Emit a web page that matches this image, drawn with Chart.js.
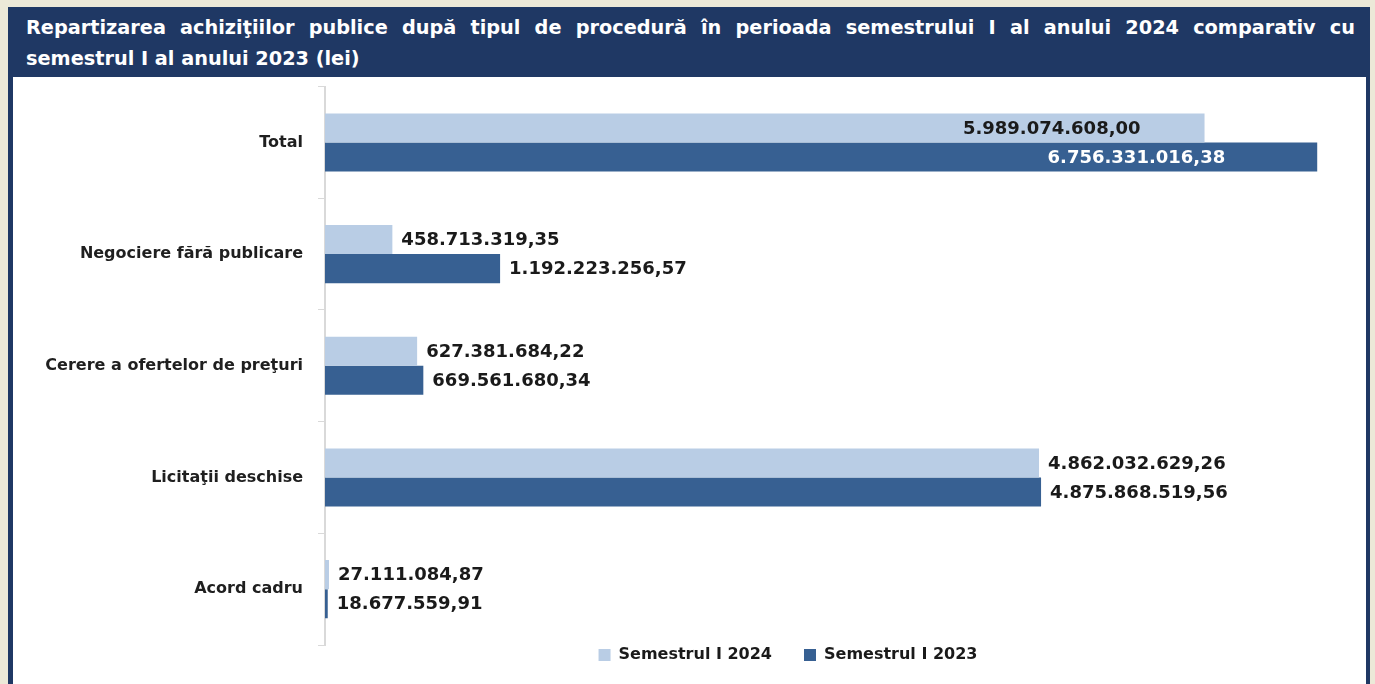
<!DOCTYPE html>
<html lang="ro">
<head>
<meta charset="UTF-8" />
<title>Repartizarea achizițiilor publice după tipul de procedură</title>
<script src="https://cdn.jsdelivr.net/npm/chart.js"></script>
<style>
    body {
        margin: 0;
        width: 1375px;
        height: 684px;
        overflow: hidden;
        background: #ece9d8;
        font-family: "DejaVu Sans", sans-serif;
    }
    .frame {
        position: absolute;
        left: 8px;
        top: 7px;
        width: 1362px;
        height: 700px;
        background: #1f3864;
    }
    .title {
        position: absolute;
        left: 18px;
        top: 5px;
        width: 1329px;
        color: #fff;
        font-weight: bold;
        font-size: 19.3px;
        line-height: 31px;
    }
    .title .l1 { text-align: justify; text-align-last: justify; }
    .chart-box {
        position: absolute;
        left: 5px;
        top: 70px;
        width: 1353px;
        height: 660px;
        background: #fff;
    }
    .plot {
        position: absolute;
        left: 0;
        top: -15px;
        width: 1353px;
        height: 675px;
    }
</style>
</head>
<body>
<div class="frame">
    <div class="title">
        <div class="l1">Repartizarea achiziţiilor publice după tipul de procedură în perioada semestrului I al anului 2024 comparativ cu</div>
        <div>semestrul I al anului 2023 (lei)</div>
    </div>
    <div class="chart-box"><div class="plot"><canvas id="chart"></canvas></div></div>
</div>

<script>
// categories, top to bottom
const categories = [
    "Total",
    "Negociere fără publicare",
    "Cerere a ofertelor de preţuri",
    "Licitaţii deschise",
    "Acord cadru"
];
const sem2024 = [5989074608.00, 458713319.35, 627381684.22, 4862032629.26, 27111084.87];
const sem2023 = [6756331016.38, 1192223256.57, 669561680.34, 4875868519.56, 18677559.91];
const seriesNames = ["Semestrul I 2024", "Semestrul I 2023"];

// Total labels sit inside the bar end, the rest outside
const labelInside = [true, false, false, false, false];

function fmtRo(v) {
    const parts = v.toFixed(2).split(".");
    return parts[0].replace(/\B(?=(\d{3})+(?!\d))/g, ".") + "," + parts[1];
}

const valueLabels = {
    id: "valueLabels",
    afterDatasetsDraw(chart) {
        const ctx = chart.ctx;
        ctx.save();
        ctx.font = 'bold 18px "DejaVu Sans"';
        ctx.textBaseline = "middle";
        chart.data.datasets.forEach((ds, i) => {
            chart.getDatasetMeta(i).data.forEach((bar, j) => {
                const text = fmtRo(ds.data[j]);
                if (labelInside[j]) {
                    ctx.textAlign = "right";
                    ctx.fillStyle = i === 0 ? "#1a1a1a" : "#ffffff";
                    ctx.fillText(text, bar.x - (i === 0 ? 64 : 92), bar.y + 1);
                } else {
                    ctx.textAlign = "left";
                    ctx.fillStyle = "#1a1a1a";
                    ctx.fillText(text, bar.x + 9, bar.y + 1);
                }
            });
        });
        ctx.restore();
    }
};

// move the legend row under the bars like in the original
const legendPlace = {
    id: "legendPlace",
    afterLayout(chart) {
        const lg = chart.legend;
        const dx = 775 - (lg.left + lg.right) / 2;
        const dy = 553 - lg.top;
        lg.left += dx; lg.right += dx;
        lg.top += dy; lg.bottom += dy;
    }
};

new Chart(document.getElementById("chart"), {
    type: "bar",
    data: {
        labels: categories,
        datasets: [
            { label: seriesNames[0], data: sem2024, backgroundColor: "#b9cde5", borderWidth: 0,
              categoryPercentage: 0.52, barPercentage: 1 },
            { label: seriesNames[1], data: sem2023, backgroundColor: "#376092", borderWidth: 0,
              categoryPercentage: 0.52, barPercentage: 1 }
        ]
    },
    options: {
        indexAxis: "y",
        responsive: true,
        maintainAspectRatio: false,
        animation: false,
        layout: { padding: { top: 9, right: 13, bottom: 34, left: 0 } },
        scales: {
            x: { display: false, min: 0, max: 7000000000 },
            y: {
                grid: { display: true, drawOnChartArea: false, drawTicks: true, tickLength: 7,
                        offset: true, color: "#d9d9d9" },
                border: { display: true, color: "#d9d9d9", width: 2 },
                ticks: { font: { family: "DejaVu Sans", size: 16, weight: "bold" }, color: "#1f1f1f", padding: 15 },
                afterFit(s) { s.width = 312; }
            }
        },
        plugins: {
            legend: {
                position: "bottom",
                labels: {
                    boxWidth: 12, boxHeight: 12, padding: 32,
                    font: { family: "DejaVu Sans", size: 16, weight: "bold" },
                    color: "#1a1a1a"
                }
            },
            tooltip: { enabled: false }
        }
    },
    plugins: [valueLabels, legendPlace]
});
</script>
</body>
</html>
